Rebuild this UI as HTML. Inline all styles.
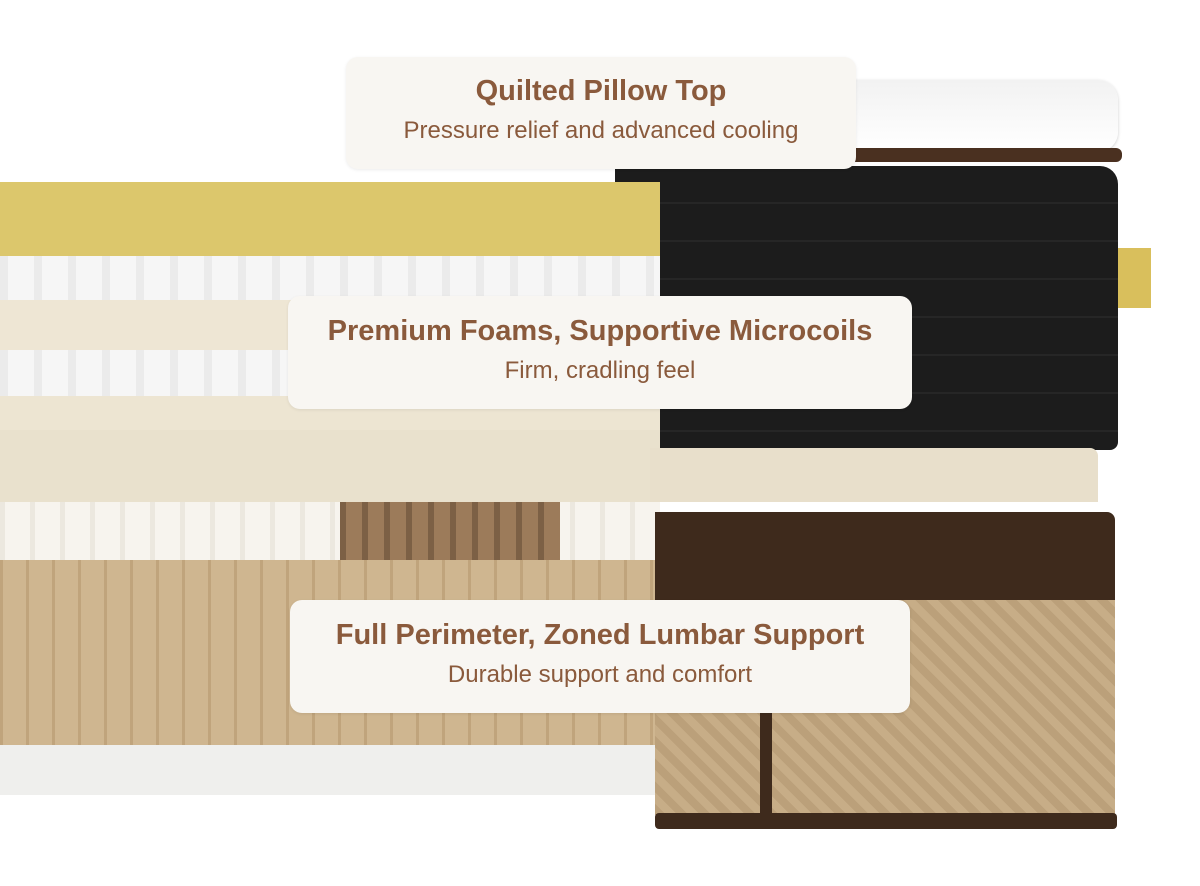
<!DOCTYPE html>
<html><head><meta charset="utf-8"><style>
body{margin:0;width:1200px;height:886px;background:#fff;position:relative;overflow:hidden;font-family:"Liberation Sans",sans-serif}
div{position:absolute;box-sizing:border-box}
.lbl{background:#f8f6f2;border-radius:12px;text-align:center;color:#8a5a3c;box-shadow:0 1px 3px rgba(0,0,0,.08)}
.t{font-weight:bold;font-size:29px;position:absolute;left:0;right:0}
.s{font-size:24px;position:absolute;left:0;right:0}
</style></head><body>
<div style="left:640px;top:80px;width:478px;height:72px;background:linear-gradient(#f2f2f2,#fff);border-radius:10px 20px 20px 10px;box-shadow:0 1px 3px #ccc"></div>
<div style="left:640px;top:148px;width:482px;height:14px;background:#4a3020;border-radius:6px"></div>
<div style="left:615px;top:166px;width:503px;height:284px;background:repeating-linear-gradient(#1c1c1c 0 36px,#262626 36px 38px);border-radius:0 18px 8px 20px"></div>
<div style="left:1118px;top:248px;width:33px;height:60px;background:#d9bf5c"></div>
<div style="left:0;top:182px;width:660px;height:74px;background:#dcc76c"></div>
<div style="left:0;top:256px;width:660px;height:44px;background:repeating-linear-gradient(90deg,#ebebeb 0 8px,#f6f6f6 8px 34px);"></div>
<div style="left:0;top:300px;width:660px;height:50px;background:#eee6d4"></div>
<div style="left:0;top:350px;width:660px;height:46px;background:repeating-linear-gradient(90deg,#ebebeb 0 8px,#f6f6f6 8px 34px);"></div>
<div style="left:0;top:396px;width:660px;height:34px;background:#ede5d2"></div>
<div style="left:0;top:430px;width:660px;height:72px;background:#e9e1cd"></div>
<div style="left:650px;top:448px;width:448px;height:54px;background:#e8dfcb;border-radius:0 8px 0 0"></div>
<div style="left:0;top:502px;width:660px;height:58px;background:repeating-linear-gradient(90deg,#ece8df 0 5px,#f7f4ee 5px 30px)"></div>
<div style="left:340px;top:502px;width:220px;height:58px;background:repeating-linear-gradient(90deg,#7c6045 0 6px,#9c7b5a 6px 22px)"></div>
<div style="left:0;top:560px;width:660px;height:185px;background:repeating-linear-gradient(90deg,#c0a47c 0 3px,#cfb690 3px 26px)"></div>
<div style="left:0;top:745px;width:660px;height:50px;background:#efefed"></div>
<div style="left:655px;top:512px;width:460px;height:90px;background:#3e2a1c;border-radius:0 8px 0 0"></div>
<div style="left:655px;top:600px;width:460px;height:215px;background:repeating-linear-gradient(45deg,#bba07a 0 8px,#c7ad87 8px 16px)"></div>
<div style="left:760px;top:700px;width:12px;height:115px;background:#3e2a1c"></div>
<div style="left:655px;top:813px;width:462px;height:16px;background:#3e2a1c;border-radius:4px"></div>
<div class="lbl" style="left:346px;top:57px;width:510px;height:112px"><div class="t" style="top:18px">Quilted Pillow Top</div><div class="s" style="top:60px">Pressure relief and advanced cooling</div></div>
<div class="lbl" style="left:288px;top:296px;width:624px;height:113px"><div class="t" style="top:19px">Premium Foams, Supportive Microcoils</div><div class="s" style="top:61px">Firm, cradling feel</div></div>
<div class="lbl" style="left:290px;top:600px;width:620px;height:113px"><div class="t" style="top:19px">Full Perimeter, Zoned Lumbar Support</div><div class="s" style="top:61px">Durable support and comfort</div></div>
</body></html>
